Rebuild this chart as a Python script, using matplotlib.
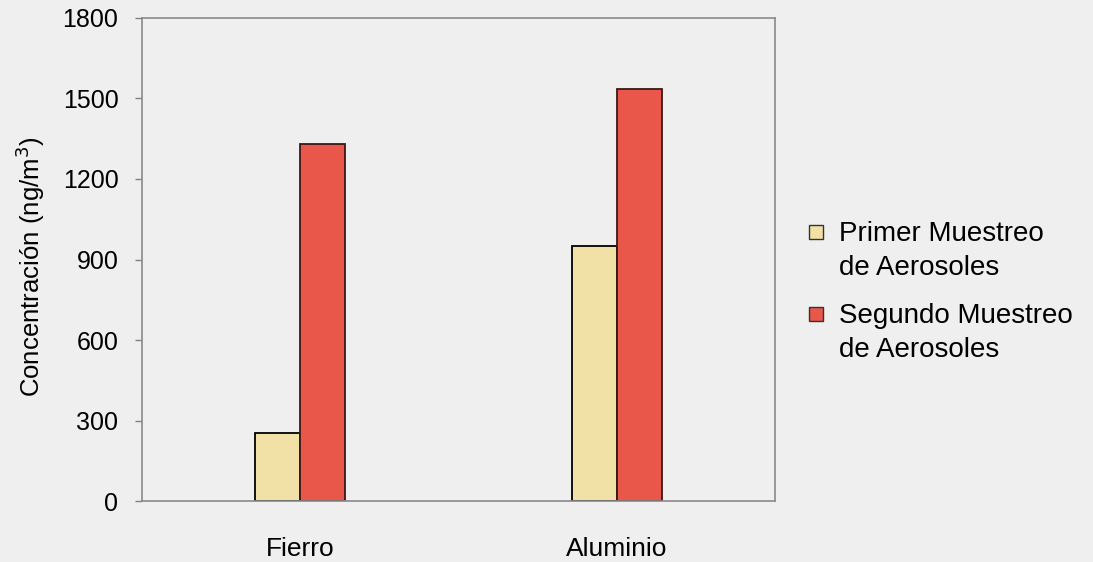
import numpy as np
import matplotlib.pyplot as plt
from matplotlib.patches import Rectangle

plt.rcParams['font.family'] = ['Liberation Sans', 'DejaVu Sans']

# Concentraciones por elemento
elementos = ['Fierro', 'Aluminio']
primer = [255, 950]
segundo = [1330, 1535]
series = ['Primer Muestreo\nde Aerosoles', 'Segundo Muestreo\nde Aerosoles']
colores = ['#F1E1A6', '#E8574A']
yticks = [0, 300, 600, 900, 1200, 1500, 1800]

fig = plt.figure(figsize=(10.93, 5.62), dpi=100, facecolor='#EFEFEF')
ax = fig.add_axes([0.130, 0.1085, 0.579, 0.8595])
ax.set_facecolor('#EFEFEF')

x = np.arange(len(elementos))
w = 0.142
ax.bar(x - w / 2, primer, w, color=colores[0], edgecolor='black', linewidth=1.3)
ax.bar(x + w / 2, segundo, w, color=colores[1], edgecolor='#3a1a14', linewidth=1.3)

ax.set_xlim(-0.5, 1.5)
ax.set_ylim(0, 1800)
ax.set_yticks(yticks)
ax.set_xticks(x)
ax.set_xticklabels(elementos, fontsize=19)
ax.tick_params(axis='x', length=0, pad=26)
ax.tick_params(axis='y', length=5, width=1, color='#808080', pad=12, labelsize=18)
for s in ax.spines.values():
    s.set_color('#8a8a8a')
    s.set_linewidth(1.2)

ax.set_ylabel('Concentración (ng/m$^3$)', fontsize=18.5)
ax.yaxis.set_label_coords(-0.150, 0.484)

# Leyenda a la derecha
for i, (lab, col) in enumerate(zip(series, colores)):
    yc = 1 - (232 + i * 82) / 562
    fig.patches.append(Rectangle((809 / 1093, yc - 7 / 562), 14 / 1093, 14 / 562,
                                 transform=fig.transFigure, facecolor=col,
                                 edgecolor='#333333', linewidth=1))
    fig.text(839 / 1093, yc + 11 / 562, lab, fontsize=20, va='top', ha='left',
             linespacing=1.4)

fig.savefig('out.png', dpi=100, facecolor=fig.get_facecolor())
